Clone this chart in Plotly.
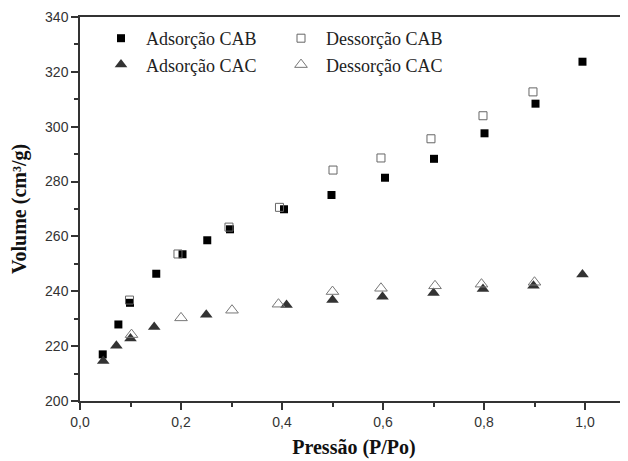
import plotly.graph_objects as go

# Adsorção CAB (filled squares)
ads_cab_x = [0.045, 0.076, 0.099, 0.151, 0.203, 0.252, 0.297, 0.404, 0.498, 0.604, 0.701, 0.801, 0.902, 0.995]
ads_cab_y = [217.0, 227.9, 235.8, 246.4, 253.5, 258.6, 262.6, 269.9, 275.1, 281.4, 288.3, 297.6, 308.4, 323.7]

# Dessorção CAB (open squares)
des_cab_x = [0.098, 0.194, 0.295, 0.395, 0.501, 0.596, 0.695, 0.798, 0.897]
des_cab_y = [236.8, 253.6, 263.4, 270.6, 284.2, 288.6, 295.6, 304.0, 312.7]

# Adsorção CAC (filled triangles)
ads_cac_x = [0.046, 0.072, 0.100, 0.147, 0.250, 0.409, 0.500, 0.599, 0.700, 0.798, 0.898, 0.995]
ads_cac_y = [214.6, 220.1, 222.8, 227.0, 231.4, 235.0, 236.8, 238.0, 239.4, 240.8, 242.0, 246.1]

# Dessorção CAC (open triangles)
des_cac_x = [0.102, 0.200, 0.301, 0.393, 0.500, 0.596, 0.703, 0.795, 0.900]
des_cac_y = [224.2, 230.3, 233.1, 235.3, 239.9, 241.1, 242.0, 242.6, 243.3]

x_title = "Pressão (P/Po)"
y_title = "Volume (cm³/g)"

# page body has an 8px margin, so the figure starts at (8, 8) in the window
OFF = 8
W, H = 628 - OFF, 461 - OFF
L, R, T, B = 80 - OFF, 0, 17 - OFF, 60 - OFF + 8

fig = go.Figure()
fig.add_trace(go.Scatter(x=ads_cab_x, y=ads_cab_y, mode="markers", name="Adsorção CAB",
                         marker=dict(symbol="square", size=8, color="#000000"), legend="legend"))
fig.add_trace(go.Scatter(x=ads_cac_x, y=ads_cac_y, mode="markers", name="Adsorção CAC",
                         marker=dict(symbol="triangle-up", size=11, color="#333333"), legend="legend"))
fig.add_trace(go.Scatter(x=des_cab_x, y=des_cab_y, mode="markers", name="Dessorção CAB",
                         marker=dict(symbol="square-open", size=8, color="#666666", line=dict(width=1)),
                         legend="legend2"))
fig.add_trace(go.Scatter(x=des_cac_x, y=des_cac_y, mode="markers", name="Dessorção CAC",
                         marker=dict(symbol="triangle-up-open", size=11, color="#777777", line=dict(width=1)),
                         legend="legend2"))

legend_font = dict(family="Liberation Serif, Times New Roman, serif", size=18, color="#222222")
pw = W - L - R
ph = H - T - B

def px_to_paper_x(px):
    return (px - OFF - L) / pw

def py_to_paper_y(py):
    return 1 - (py - OFF - T) / ph

fig.update_layout(
    width=W, height=H,
    margin=dict(l=L, r=R, t=T, b=B),
    paper_bgcolor="white", plot_bgcolor="white",
    separators=",.",
    showlegend=True,
    legend=dict(x=px_to_paper_x(96), y=py_to_paper_y(20), xanchor="left", yanchor="top",
                bgcolor="rgba(0,0,0,0)", font=legend_font, tracegroupgap=0,
                itemwidth=40),
    legend2=dict(x=px_to_paper_x(276), y=py_to_paper_y(20), xanchor="left", yanchor="top",
                 bgcolor="rgba(0,0,0,0)", font=legend_font, tracegroupgap=0,
                 itemwidth=40),
    xaxis=dict(
        range=[0, pw / 505.0], showgrid=False, zeroline=False, automargin=False,
        showline=True, linecolor="#333333", linewidth=1.5, mirror=True,
        ticks="outside", ticklen=7, tickwidth=1.5, tickcolor="#333333",
        tick0=0, dtick=0.2, tickformat=".1f",
        minor=dict(ticks="outside", ticklen=4, tickwidth=1.5, tickcolor="#333333", dtick=0.1, showgrid=False),
        tickfont=dict(family="Liberation Sans, Arial, sans-serif", size=14, color="#333333"),
        title=dict(text=x_title, standoff=11,
                   font=dict(family="Liberation Serif, Times New Roman, serif", size=20, color="#111111",
                             weight="bold")),
    ),
    yaxis=dict(
        range=[200, 340], showgrid=False, zeroline=False, automargin=False,
        showline=True, linecolor="#333333", linewidth=1.5, mirror=False,
        ticks="outside", ticklen=7, tickwidth=1.5, tickcolor="#333333",
        tick0=200, dtick=20,
        minor=dict(ticks="outside", ticklen=4, tickwidth=1.5, tickcolor="#333333", dtick=10, showgrid=False),
        tickfont=dict(family="Liberation Sans, Arial, sans-serif", size=14, color="#333333"),
        title=dict(text=y_title, standoff=14,
                   font=dict(family="Liberation Serif, Times New Roman, serif", size=20, color="#111111",
                             weight="bold")),
    ),
)

fig.write_html("out.html")
